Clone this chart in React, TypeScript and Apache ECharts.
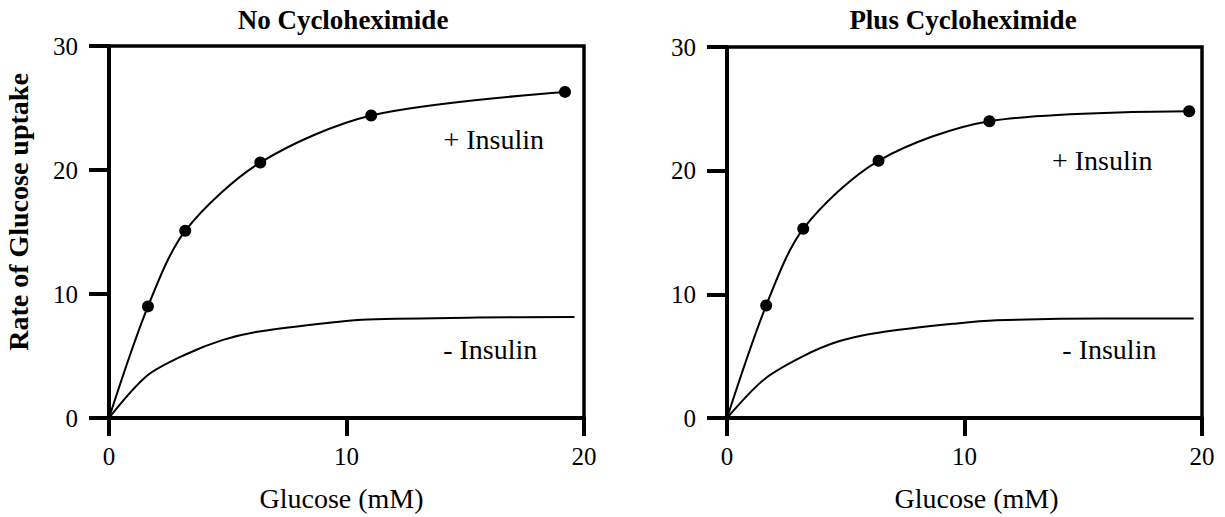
import React, { useEffect, useRef } from "react";
import * as echarts from "echarts";

// ---- Data ----
const titles = ["No Cycloheximide", "Plus Cycloheximide"];
const xTicks = [0, 10, 20];
const yTicks = [0, 10, 20, 30];
const xName = "Glucose (mM)";
const yName = "Rate of Glucose uptake";

// No cycloheximide, + insulin (measured points)
const noCycPlusX = [1.64, 3.21, 6.37, 11.04, 19.2];
const noCycPlusY = [9.0, 15.1, 20.6, 24.4, 26.3];
// No cycloheximide, - insulin (curve)
const noCycMinusX = [0, 1.6, 3.2, 4.8, 6.4, 9.6, 10.9, 15.5, 19.6];
const noCycMinusY = [0, 3.4, 5.1, 6.3, 7.0, 7.75, 7.95, 8.1, 8.15];

// Plus cycloheximide, + insulin (measured points)
const plusCycPlusX = [1.65, 3.21, 6.38, 11.05, 19.46];
const plusCycPlusY = [9.1, 15.3, 20.8, 24.0, 24.8];
// Plus cycloheximide, - insulin (curve)
const plusCycMinusX = [0, 1.55, 3.21, 4.71, 6.37, 9.69, 11.35, 15.83, 19.65];
const plusCycMinusY = [0, 3.1, 5.0, 6.2, 6.9, 7.65, 7.9, 8.05, 8.05];

// Curve labels and their anchors in data units
const curveLabels = ["+ Insulin", "- Insulin"];
const noCycLabelPos = [[16.2, 22.5], [16.05, 5.5]];
const plusCycLabelPos = [[15.8, 20.8], [16.1, 5.5]];

const FONT = "Liberation Serif, Times New Roman, serif";

function zip(xs: number[], ys: number[]) {
  return xs.map((x, i) => [x, ys[i]]);
}

export default function App() {
  const ref = useRef<HTMLDivElement>(null);
  useEffect(() => {
    if (!ref.current) return;
    const chart = echarts.init(ref.current, undefined, { renderer: "svg" });

    const grids = [
      { left: 109, top: 46, width: 475, height: 376 },
      { left: 727, top: 47, width: 475, height: 376 },
    ];

    const mkX = (gi: number) => ({
      gridIndex: gi,
      type: "value",
      min: xTicks[0],
      max: xTicks[xTicks.length - 1],
      interval: 10,
      axisLine: { show: true, onZero: false, lineStyle: { color: "#000", width: 4 } },
      axisTick: { show: true, inside: false, length: 18, lineStyle: { color: "#000", width: 4 } },
      axisLabel: { color: "#000", fontSize: 25, fontFamily: FONT, margin: 26 },
      splitLine: { show: false },
      name: xName,
      nameLocation: "middle",
      nameGap: 66,
      nameTextStyle: {
        color: "#000",
        fontSize: 28,
        fontFamily: FONT,
        padding: gi === 0 ? [0, 10, 0, 0] : [0, 0, 0, 24],
      },
    });

    const mkY = (gi: number) => ({
      gridIndex: gi,
      type: "value",
      min: yTicks[0],
      max: yTicks[yTicks.length - 1],
      interval: 10,
      axisLine: { show: true, onZero: false, lineStyle: { color: "#000", width: 4 } },
      axisTick: { show: true, inside: false, length: 20, lineStyle: { color: "#000", width: 4 } },
      axisLabel: { color: "#000", fontSize: 25, fontFamily: FONT, margin: 31 },
      splitLine: { show: false },
      ...(gi === 0
        ? {
            name: yName,
            nameLocation: "middle",
            nameRotate: 90,
            nameGap: 77,
            nameTextStyle: {
              color: "#000",
              fontSize: 28,
              fontWeight: "bold",
              fontFamily: FONT,
              padding: [0, 0, 0, 40],
            },
          }
        : {}),
    });

    const labelMark = (pos: number[][]) => ({
      symbol: "circle",
      symbolSize: 0,
      silent: true,
      itemStyle: { color: "transparent" },
      label: { show: true, position: "inside", color: "#000", fontSize: 28, fontFamily: FONT },
      data: [
        { coord: pos[0], label: { formatter: curveLabels[0] } },
        { coord: pos[1], label: { formatter: curveLabels[1] } },
      ],
    });

    const plusSeries = (gi: number, xs: number[], ys: number[], pos: number[][]) => ({
      type: "line",
      xAxisIndex: gi,
      yAxisIndex: gi,
      smooth: 0.3,
      symbol: "circle",
      symbolSize: 12,
      showSymbol: true,
      lineStyle: { color: "#000", width: 2 },
      itemStyle: { color: "#000" },
      data: [{ value: [0, 0], symbol: "none" }, ...zip(xs, ys)],
      markPoint: labelMark(pos),
      z: 3,
    });

    const minusSeries = (gi: number, xs: number[], ys: number[]) => ({
      type: "line",
      xAxisIndex: gi,
      yAxisIndex: gi,
      smooth: 0.3,
      showSymbol: false,
      symbol: "none",
      lineStyle: { color: "#000", width: 2 },
      data: zip(xs, ys),
      z: 2,
    });

    chart.setOption({
      animation: false,
      backgroundColor: "#fff",
      title: [
        {
          text: titles[0],
          left: 343,
          top: 6,
          padding: 0,
          textAlign: "center",
          textStyle: { color: "#000", fontSize: 27, fontWeight: "bold", fontFamily: FONT },
        },
        {
          text: titles[1],
          left: 963,
          top: 6,
          padding: 0,
          textAlign: "center",
          textStyle: { color: "#000", fontSize: 27, fontWeight: "bold", fontFamily: FONT },
        },
      ],
      grid: grids.map((g) => ({
        ...g,
        show: true,
        borderColor: "#000",
        borderWidth: 3.5,
        backgroundColor: "transparent",
      })),
      xAxis: [mkX(0), mkX(1)],
      yAxis: [mkY(0), mkY(1)],
      series: [
        plusSeries(0, noCycPlusX, noCycPlusY, noCycLabelPos),
        minusSeries(0, noCycMinusX, noCycMinusY),
        plusSeries(1, plusCycPlusX, plusCycPlusY, plusCycLabelPos),
        minusSeries(1, plusCycMinusX, plusCycMinusY),
      ],
    });

    return () => chart.dispose();
  }, []);

  return (
    <div
      ref={ref}
      style={{ position: "fixed", left: 0, top: 0, width: 1225, height: 517, background: "#fff" }}
    />
  );
}
